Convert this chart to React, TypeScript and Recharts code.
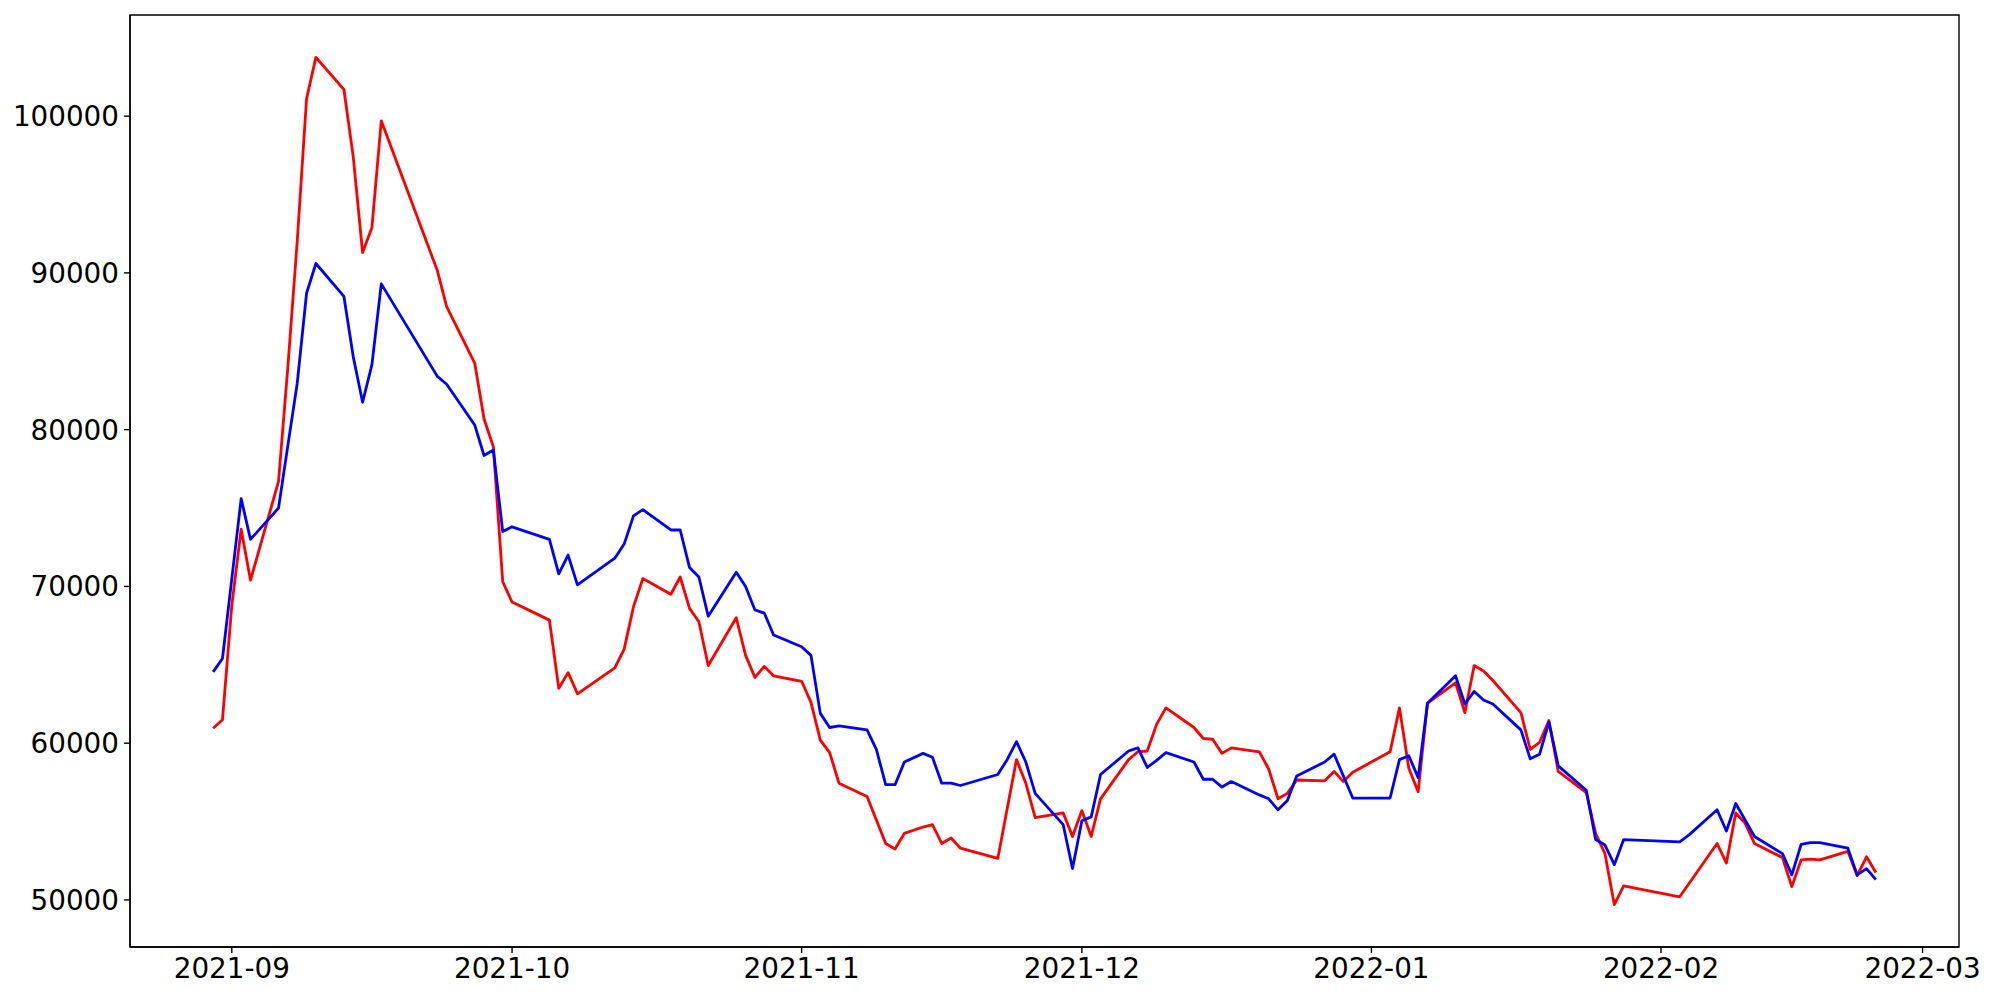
import React from 'react';
import { LineChart, Line, XAxis, YAxis, ReferenceArea } from 'recharts';

const dates = [
  '2021-08-30', '2021-08-31',
  '2021-09-01', '2021-09-02', '2021-09-03', '2021-09-06', '2021-09-07', '2021-09-08', '2021-09-09', '2021-09-10',
  '2021-09-13', '2021-09-14', '2021-09-15', '2021-09-16', '2021-09-17', '2021-09-23', '2021-09-24',
  '2021-09-27', '2021-09-28', '2021-09-29', '2021-09-30',
  '2021-10-01', '2021-10-05', '2021-10-06', '2021-10-07', '2021-10-08', '2021-10-12', '2021-10-13', '2021-10-14', '2021-10-15',
  '2021-10-18', '2021-10-19', '2021-10-20', '2021-10-21', '2021-10-22', '2021-10-25', '2021-10-26', '2021-10-27', '2021-10-28', '2021-10-29',
  '2021-11-01', '2021-11-02', '2021-11-03', '2021-11-04', '2021-11-05', '2021-11-08', '2021-11-09', '2021-11-10', '2021-11-11', '2021-11-12',
  '2021-11-14', '2021-11-15', '2021-11-16', '2021-11-17', '2021-11-18', '2021-11-22', '2021-11-23', '2021-11-24', '2021-11-25', '2021-11-26',
  '2021-11-29', '2021-11-30',
  '2021-12-01', '2021-12-02', '2021-12-03', '2021-12-06', '2021-12-07', '2021-12-08', '2021-12-09', '2021-12-10',
  '2021-12-13', '2021-12-14', '2021-12-15', '2021-12-16', '2021-12-17', '2021-12-20', '2021-12-21', '2021-12-22', '2021-12-23', '2021-12-24',
  '2021-12-27', '2021-12-28', '2021-12-29', '2021-12-30',
  '2022-01-03', '2022-01-04', '2022-01-05', '2022-01-06', '2022-01-07', '2022-01-10', '2022-01-11', '2022-01-12', '2022-01-13', '2022-01-14',
  '2022-01-17', '2022-01-18', '2022-01-19', '2022-01-20', '2022-01-21', '2022-01-24', '2022-01-25', '2022-01-26', '2022-01-27', '2022-01-28',
  '2022-02-03', '2022-02-04', '2022-02-07', '2022-02-08', '2022-02-09', '2022-02-10', '2022-02-11',
  '2022-02-14', '2022-02-15', '2022-02-16', '2022-02-17', '2022-02-18', '2022-02-21', '2022-02-22', '2022-02-23', '2022-02-24',
];

const redValues = [
  60950, 61500,
  68800, 73650, 70400, 76700, 84000, 92000, 101100, 103750,
  101700, 97400, 91300, 92900, 99700, 90150, 87850,
  84250, 80700, 78900, 70300,
  69000, 67850, 63500, 64500, 63150, 64800, 66000, 68700, 70500,
  69500, 70600, 68600, 67750, 64950, 68000, 65600, 64200, 64900, 64300,
  63950, 62600, 60200, 59400, 57450, 56600, 55100, 53600, 53250, 54250,
  54650, 54800, 53600, 53950, 53300, 52650, 55800, 58950, 57450, 55250,
  55550, 54050,
  55700, 54050, 56450, 58950, 59450, 59500, 61200, 62250,
  61000, 60300, 60250, 59350, 59700, 59450, 58350, 56450, 56800, 57650,
  57600, 58200, 57550, 58150,
  59450, 62250, 58400, 56900, 62550, 63850, 61950, 64950, 64600, 64000,
  61950, 59600, 60050, 61450, 58200, 56850, 54250, 52950, 49700, 50900,
  50200, 51050, 53600, 52350, 55550, 54900, 53600,
  52700, 50850, 52550, 52600, 52550, 53100, 51550, 52750, 51750,
];

const blueValues = [
  64550, 65400,
  70500, 75600, 73000, 75000, 79000, 82950, 88700, 90600,
  88500, 84650, 81750, 84150, 89300, 83400, 82900,
  80300, 78350, 78700, 73500,
  73800, 73000, 70800, 72000, 70100, 71800, 72700, 74500, 74900,
  73600, 73600, 71200, 70600, 68100, 70900, 70000, 68500, 68300, 66900,
  66150, 65600, 61900, 61000, 61100, 60850, 59600, 57350, 57350, 58800,
  59350, 59100, 57450, 57450, 57300, 58000, 58950, 60100, 58800, 56800,
  54800, 52000,
  55050, 55300, 58000, 59500, 59700, 58450, 58900, 59400,
  58800, 57700, 57700, 57200, 57550, 56700, 56450, 55750, 56350, 57900,
  58800, 59300, 57900, 56500,
  56500, 58950, 59200, 57800, 62550, 64300, 62500, 63300, 62750, 62500,
  60850, 59000, 59300, 61350, 58550, 57000, 53850, 53500, 52250, 53850,
  53700, 54150, 55750, 54400, 56150, 55100, 54050,
  52950, 51600, 53550, 53650, 53650, 53300, 51600, 52000, 51300,
];

const monthTicks = ['2021-09-01', '2021-10-01', '2021-11-01', '2021-12-01', '2022-01-01', '2022-02-01', '2022-03-01'];
const yTicks = [50000, 60000, 70000, 80000, 90000, 100000];

const toTime = (s: string) => new Date(s + 'T00:00:00Z').getTime();

const data = dates.map((d, i) => ({ t: toTime(d), red: redValues[i], blue: blueValues[i] }));

// matplotlib-style 5% margins around the data
const tMin = data[0].t;
const tMax = data[data.length - 1].t;
const tPad = (tMax - tMin) * 0.05;
const xDomain = [tMin - tPad, tMax + tPad];

const allVals = [...redValues, ...blueValues];
const vMin = Math.min(...allVals);
const vMax = Math.max(...allVals);
const vPad = (vMax - vMin) * 0.05;
const yDomain = [vMin - vPad, vMax + vPad];

const fmtMonth = (v: number) => {
  const d = new Date(v);
  return `${d.getUTCFullYear()}-${String(d.getUTCMonth() + 1).padStart(2, '0')}`;
};

const tickStyle = { fill: '#000', fontSize: 27.8, fontFamily: 'DejaVu Sans' };
const axisStroke = { stroke: '#000', strokeWidth: 1.4 };

export default function App() {
  return (
    <div style={{ position: 'absolute', left: 0, top: 0, width: 2000, height: 1000, background: '#fff' }}>
      <LineChart width={2000} height={1000} data={data} margin={{ top: 15, right: 41, bottom: 0, left: 0 }}>
        <XAxis
          dataKey="t"
          type="number"
          domain={xDomain}
          allowDataOverflow
          ticks={monthTicks.map(toTime)}
          tickFormatter={fmtMonth}
          interval={0}
          height={53}
          tickSize={6}
          tickMargin={5}
          tick={tickStyle}
          axisLine={axisStroke}
          tickLine={axisStroke}
        />
        <YAxis
          type="number"
          domain={yDomain}
          allowDataOverflow
          ticks={yTicks}
          interval={0}
          width={130}
          tickSize={6}
          tickMargin={5}
          tick={tickStyle}
          axisLine={axisStroke}
          tickLine={axisStroke}
        />
        {/* frame around the plot area, like matplotlib spines */}
        <ReferenceArea
          x1={xDomain[0]}
          x2={xDomain[1]}
          y1={yDomain[0]}
          y2={yDomain[1]}
          fill="none"
          stroke="#000"
          strokeWidth={1.4}
          ifOverflow="visible"
        />
        <Line dataKey="red" stroke="#ff0000" strokeWidth={2.8} strokeLinejoin="round" dot={false} activeDot={false} isAnimationActive={false} />
        <Line dataKey="blue" stroke="#0000ff" strokeWidth={2.8} strokeLinejoin="round" dot={false} activeDot={false} isAnimationActive={false} />
      </LineChart>
    </div>
  );
}
